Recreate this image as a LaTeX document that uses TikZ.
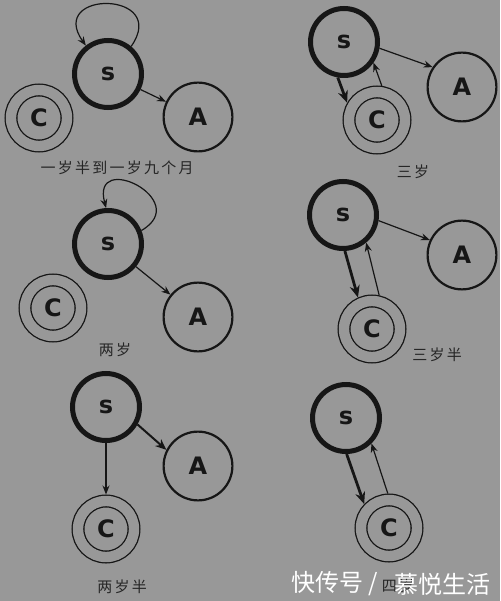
\documentclass[tikz,border=0pt]{standalone}
\usepackage{fontspec}
\usetikzlibrary{arrows.meta}
\newfontfamily\letra{DejaVu Sans}
\newfontfamily\cjk[LetterSpace=15]{Noto Sans CJK SC}
\newfontfamily\marca{Noto Sans CJK SC}
\definecolor{fondo}{RGB}{152,152,152}
\definecolor{trazo}{RGB}{22,22,22}

\begin{document}
\begin{tikzpicture}[x=1pt, y=1pt,
    letras/.style={font=\letra\bfseries\fontsize{24}{24}\selectfont, text=trazo},
    snode/.style={letras, circle, draw=trazo, line width=5pt, minimum size=67pt, inner sep=0pt},
    anode/.style={letras, circle, draw=trazo, line width=2.2pt, minimum size=68.8pt, inner sep=0pt},
    cnode/.style={letras, circle, draw=trazo, line width=1.3pt, double=fondo, double distance=10.4pt,
        minimum size=56pt, inner sep=0pt, outer sep=6.5pt},
    fina/.style={draw=trazo, line width=1.2pt, -{Stealth[length=9pt, width=7pt]}},
    media/.style={draw=trazo, line width=2pt, -{Stealth[length=11pt, width=9pt]}},
    gruesa/.style={draw=trazo, line width=2.8pt, -{Stealth[length=12pt, width=10pt]}},
    etiqueta/.style={font=\cjk\fontsize{15}{15}\selectfont, text=black!85},
    marcaagua/.style={font=\marca\fontsize{24}{24}\selectfont, text=white, inner sep=0pt}
]
    % Fondo
    \fill[fondo] (0,0) rectangle (500,-601);
    \useasboundingbox (0,0) rectangle (500,-601);

    % Un año y medio
    \node[snode] (s1) at (108,-74) {s};
    \node[anode] (a1) at (198,-117) {A};
    \node[cnode] (c1) at (39,-118) {C};
    \draw[fina] (s1.50) to[out=55, in=125, looseness=3.85] (s1.128);
    \draw[fina] (s1) -- (a1);
    \node[etiqueta] (e1) at (117,-168) {一岁半到一岁九个月};

    % Dos años
    \node[snode] (s3) at (108,-244) {s};
    \node[anode] (a3) at (198,-317) {A};
    \node[cnode] (c3) at (53,-308) {C};
    \draw[fina] (s3.22) to[out=30, in=105, looseness=3.7] (s3.93);
    \draw[fina] (s3) -- (a3);
    \node[etiqueta] (e3) at (115,-350) {两岁};

    % Dos años y medio
    \node[snode] (s5) at (106,-407) {s};
    \node[anode] (a5) at (198,-466) {A};
    \node[cnode] (c5) at (106,-529) {C};
    \draw[fina] (s5.270) -- (c5.90);
    \draw[media] (s5.-29) -- (a5.153);
    \node[etiqueta] (e5) at (122,-587) {两岁半};

    % Tres años
    \node[snode] (s2) at (344,-42) {s};
    \node[anode] (a2) at (462,-87) {A};
    \node[cnode] (c2) at (377,-120) {C};
    \draw[fina] (s2.-10) -- (a2.146);
    \draw[gruesa] (s2.260) -- (c2.150);
    \draw[fina] (c2.82) -- (s2.-35);
    \node[etiqueta] (e2) at (413,-172) {三岁};

    % Tres años y medio
    \node[snode] (s4) at (343,-215) {s};
    \node[anode] (a4) at (462,-255) {A};
    \node[cnode] (c4) at (372,-329) {C};
    \draw[fina] (s4.-9) -- (a4.155);
    \draw[gruesa] (s4.273) -- (c4.114);
    \draw[fina] (c4.78) -- (s4.-50);
    \node[etiqueta] (e4) at (437,-355) {三岁半};

    % Cuatro años
    \node[snode] (s6) at (346,-418) {s};
    \node[cnode] (c6) at (389,-528) {C};
    \draw[gruesa] (s6.271) -- (c6.136);
    \draw[fina] (c6.92) -- (s6.-45);
    \node[etiqueta] (e6) at (398,-586) {四岁};

    % Marca de agua
    \node[marcaagua, anchor=east] (m1) at (378,-584) {快传号 /};
    \node[marcaagua, anchor=west] (m2) at (394,-584) {慕悦生活};

\end{tikzpicture}
\end{document}
